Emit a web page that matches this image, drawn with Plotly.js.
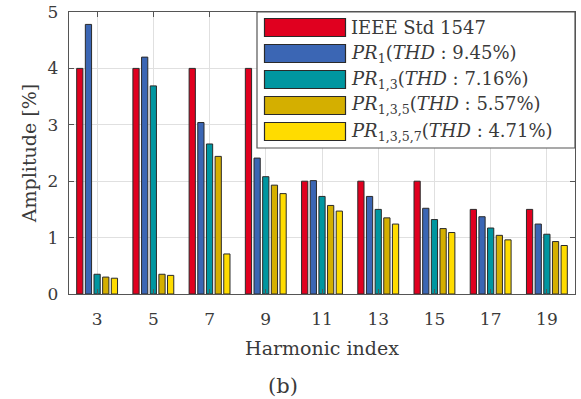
<!DOCTYPE html>
<html>
<head>
<meta charset="utf-8">
<script src="https://cdn.plot.ly/plotly-3.0.1.min.js"></script>
<style>html,body{margin:0;padding:0;background:#fff;}#chart{width:581px;height:399px;}</style>
</head>
<body>
<div id="chart"></div>
<script>
const harmonics = [3, 5, 7, 9, 11, 13, 15, 17, 19];
const ieee      = [4, 4, 4, 4, 2, 2, 2, 1.5, 1.5];
const pr1       = [4.78, 4.2, 3.04, 2.41, 2.01, 1.73, 1.52, 1.37, 1.24];
const pr13      = [0.35, 3.69, 2.66, 2.08, 1.73, 1.50, 1.32, 1.17, 1.06];
const pr135     = [0.30, 0.35, 2.44, 1.93, 1.57, 1.35, 1.16, 1.04, 0.93];
const pr1357    = [0.28, 0.33, 0.71, 1.78, 1.47, 1.24, 1.09, 0.96, 0.86];
const seriesNames = [
  'IEEE Std 1547',
  '<i>PR</i><sub>1</sub>(<i>THD</i> : 9.45%)',
  '<i>PR</i><sub>1,3</sub>(<i>THD</i> : 7.16%)',
  '<i>PR</i><sub>1,3,5</sub>(<i>THD</i> : 5.57%)',
  '<i>PR</i><sub>1,3,5,7</sub>(<i>THD</i> : 4.71%)'
];
const seriesValues = [ieee, pr1, pr13, pr135, pr1357];
const colors = ['#E0001F', '#3B66B4', '#0096A0', '#D4AF00', '#FFDC00'];
const xTickLabels = harmonics.map(String);
const yTicks = [0, 1, 2, 3, 4, 5];

const FONT = 'DejaVu Serif, Liberation Serif, serif';
const TXT = '#3a3a3a';

const traces = seriesValues.map((v, i) => ({
  type: 'bar',
  x: harmonics,
  y: v,
  name: seriesNames[i],
  marker: {color: colors[i], line: {color: '#2a2a2a', width: 1}},
  showlegend: false,
  hoverinfo: 'x+y'
}));

// plot area in pixels
const L = 69, R = 575, T = 12, B = 294;
const W = R - L, H = B - T;
const px = x => (x - L) / W;
const py = y => (B - y) / H;

const shapes = [];
const annotations = [];
// legend box
shapes.push({type: 'rect', xref: 'paper', yref: 'paper', x0: px(257), x1: px(575), y0: py(148), y1: py(12),
  fillcolor: '#ffffff', line: {color: '#555555', width: 1.2}, layer: 'above'});
seriesNames.forEach((n, i) => {
  const cy = 27.5 + i * 26;
  shapes.push({type: 'rect', xref: 'paper', yref: 'paper', x0: px(264.5), x1: px(345.5), y0: py(cy + 9), y1: py(cy - 9),
    fillcolor: colors[i], line: {color: '#2a2a2a', width: 1.2}, layer: 'above'});
  annotations.push({xref: 'paper', yref: 'paper', x: px(349), y: py(cy), xanchor: 'left', yanchor: 'middle',
    text: n, showarrow: false, font: {family: FONT, size: 18, color: TXT}});
});
annotations.push({xref: 'paper', yref: 'paper', x: px(283), y: py(386), xanchor: 'center', yanchor: 'middle',
  text: '(b)', showarrow: false, font: {family: FONT, size: 21, color: TXT}});

const layout = {
  width: 581, height: 399,
  margin: {l: L, r: 581 - R, t: T, b: 399 - B},
  paper_bgcolor: '#ffffff', plot_bgcolor: '#ffffff',
  barmode: 'group', bargap: 0.23, bargroupgap: 0.28,
  font: {family: FONT, color: TXT},
  xaxis: {
    range: [2, 20], tickvals: harmonics, ticktext: xTickLabels,
    showgrid: true, gridcolor: '#e0e0e0', gridwidth: 1,
    ticks: 'inside', ticklen: 5, tickcolor: '#555555', mirror: 'ticks',
    showline: true, linecolor: '#555555', linewidth: 1.3,
    tickfont: {family: FONT, size: 17, color: TXT}, ticklabelstandoff: 9,
    title: {text: 'Harmonic index', font: {family: FONT, size: 19, color: TXT}, standoff: 14},
    zeroline: false, fixedrange: true
  },
  yaxis: {
    range: [0, 5], tickvals: yTicks,
    showgrid: true, gridcolor: '#e0e0e0', gridwidth: 1,
    ticks: 'inside', ticklen: 5, tickcolor: '#555555', mirror: 'ticks',
    showline: true, linecolor: '#555555', linewidth: 1.3,
    tickfont: {family: FONT, size: 17, color: TXT}, ticklabelstandoff: 6,
    title: {text: 'Amplitude [%]', font: {family: FONT, size: 19, color: TXT}, standoff: 5},
    zeroline: false, fixedrange: true
  },
  shapes: shapes,
  annotations: annotations,
  showlegend: false
};

Plotly.newPlot('chart', traces, layout, {displayModeBar: false, staticPlot: true});
</script>
</body>
</html>
